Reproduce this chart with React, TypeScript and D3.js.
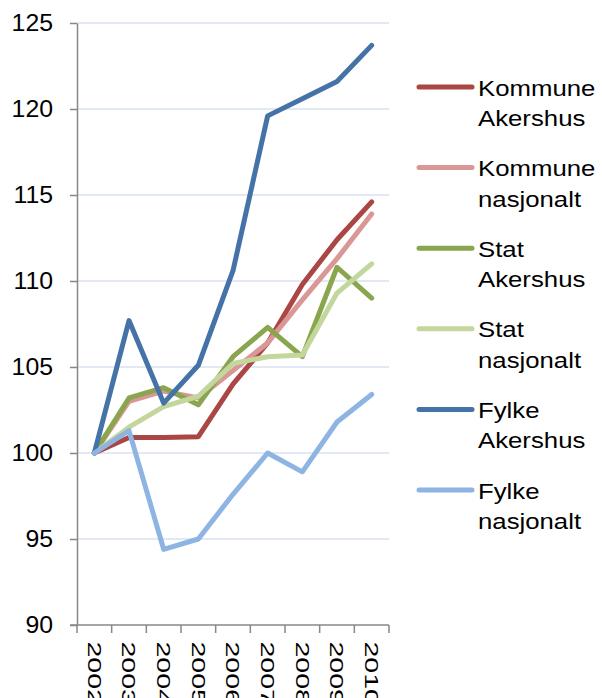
import React, { useEffect, useRef } from 'react';
import * as d3 from 'd3';

const years = ['2002', '2003', '2004', '2005', '2006', '2007', '2008', '2009', '2010'];

const kommuneAkershus = [100, 100.9, 100.9, 100.95, 104.0, 106.4, 109.8, 112.4, 114.6];
const kommuneNasjonalt = [100, 103.0, 103.6, 103.2, 104.8, 106.4, 108.9, 111.3, 113.9];
const statAkershus = [100, 103.2, 103.8, 102.8, 105.6, 107.3, 105.6, 110.8, 109.0];
const statNasjonalt = [100, 101.5, 102.7, 103.3, 105.2, 105.6, 105.7, 109.3, 111.0];
const fylkeAkershus = [100, 107.7, 102.9, 105.1, 110.6, 119.6, 120.6, 121.6, 123.7];
const fylkeNasjonalt = [100, 101.3, 94.4, 95.0, 97.6, 100.0, 98.9, 101.8, 103.4];

const yTicks = [90, 95, 100, 105, 110, 115, 120, 125];

interface Series {
  name: string[];
  values: number[];
  color: string;
}

const series: Series[] = [
  { name: ['Kommune', 'Akershus'], values: kommuneAkershus, color: '#AA4643' },
  { name: ['Kommune', 'nasjonalt'], values: kommuneNasjonalt, color: '#D99795' },
  { name: ['Stat', 'Akershus'], values: statAkershus, color: '#89A54E' },
  { name: ['Stat', 'nasjonalt'], values: statNasjonalt, color: '#C3D69B' },
  { name: ['Fylke', 'Akershus'], values: fylkeAkershus, color: '#4572A7' },
  { name: ['Fylke', 'nasjonalt'], values: fylkeNasjonalt, color: '#8EB4E3' },
];

const App: React.FC = () => {
  const svgRef = useRef<SVGSVGElement>(null);
  const width = 602;
  const height = 698;

  useEffect(() => {
    if (!svgRef.current) return;
    const svg = d3.select(svgRef.current);
    svg.selectAll('*').remove();

    const font = 'Liberation Sans, Arial, sans-serif';
    const left = 77, right = 389, top = 23, bottom = 625;

    const x = d3.scaleBand<string>().domain(years).range([left, right]);
    const y = d3.scaleLinear().domain([90, 125]).range([bottom, top]);

    // gridlines
    svg.append('g')
      .selectAll('line')
      .data(yTicks.filter(t => t !== 90))
      .join('line')
      .attr('x1', left)
      .attr('x2', right)
      .attr('y1', d => y(d))
      .attr('y2', d => y(d))
      .attr('stroke', '#D9E2F0')
      .attr('stroke-width', 1.3);

    // y axis
    const yAxis = svg.append('g').attr('transform', `translate(${left},0)`)
      .call(d3.axisLeft(y).tickValues(yTicks).tickSize(7).tickFormat(() => '').tickSizeOuter(0));
    yAxis.select('.domain').attr('stroke', '#878787').attr('stroke-width', 1.5);
    yAxis.selectAll('.tick line').attr('stroke', '#878787').attr('stroke-width', 1.5);

    svg.append('g')
      .selectAll('text')
      .data(yTicks)
      .join('text')
      .attr('transform', d => `translate(53,${y(d)}) scale(1.08,1)`)
      .attr('dy', '0.35em')
      .attr('text-anchor', 'end')
      .attr('font-family', font)
      .attr('font-size', 23)
      .attr('fill', '#000')
      .text(d => d);

    // x axis
    const xAxis = svg.append('g').attr('transform', `translate(0,${bottom})`);
    xAxis.append('line')
      .attr('x1', left - 7).attr('x2', right)
      .attr('stroke', '#878787').attr('stroke-width', 1.5);
    const bounds = years.map(d => x(d) as number).concat([right]);
    xAxis.selectAll('line.tk')
      .data(bounds)
      .join('line')
      .attr('class', 'tk')
      .attr('x1', d => d).attr('x2', d => d)
      .attr('y1', 0).attr('y2', 8)
      .attr('stroke', '#878787').attr('stroke-width', 1.5);
    xAxis.selectAll('text')
      .data(years)
      .join('text')
      .attr('transform', d => `translate(${(x(d) as number) + x.bandwidth() / 2},16.5) rotate(90) scale(1.5,1)`)
      .attr('dy', '0.35em')
      .attr('font-family', font)
      .attr('font-size', 19)
      .attr('fill', '#000')
      .text(d => d);

    // lines
    const line = d3.line<number>()
      .x((_, i) => (x(years[i]) as number) + x.bandwidth() / 2)
      .y(d => y(d));

    series.forEach(s => {
      svg.append('path')
        .datum(s.values)
        .attr('fill', 'none')
        .attr('stroke', s.color)
        .attr('stroke-width', 5)
        .attr('stroke-linejoin', 'round')
        .attr('stroke-linecap', 'round')
        .attr('d', line);
    });

    // legend
    const legend = svg.append('g');
    series.forEach((s, i) => {
      const ly = 87 + i * 80.6;
      legend.append('line')
        .attr('x1', 419).attr('x2', 472)
        .attr('y1', ly).attr('y2', ly)
        .attr('stroke', s.color)
        .attr('stroke-width', 5)
        .attr('stroke-linecap', 'round');
      const t = legend.append('text')
        .attr('transform', `translate(478,${ly + 8.5}) scale(1.12,1)`)
        .attr('font-family', font)
        .attr('font-size', 23)
        .attr('fill', '#000');
      s.name.forEach((n, j) => {
        t.append('tspan')
          .attr('x', 0)
          .attr('y', j * 30.5)
          .text(n);
      });
    });
  }, []);

  return (
    <svg
      ref={svgRef}
      width={width}
      height={height}
      style={{ position: 'fixed', top: 0, left: 0, background: '#fff' }}
    />
  );
};

export default App;
